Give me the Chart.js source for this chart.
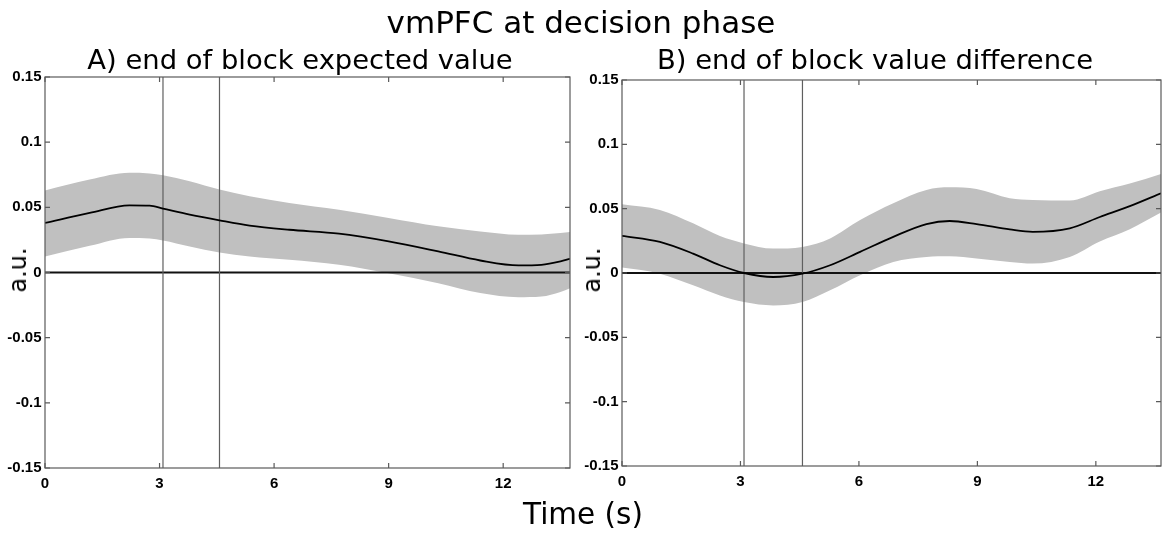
<!DOCTYPE html>
<html>
<head>
<meta charset="utf-8">
<script src="https://cdn.jsdelivr.net/npm/chart.js@4/dist/chart.umd.min.js"></script>
<style>
  html, body { margin: 0; padding: 0; background: #fff; }
  #wrap { position: relative; width: 1162px; height: 533px; overflow: hidden; font-family: "DejaVu Sans", sans-serif; color: #000; }
  canvas { position: absolute; top: 0; }
  .txt { position: absolute; line-height: 1; white-space: nowrap; }
  .au { position: absolute; line-height: 1; font-size: 24px; transform: translate(-50%, -50%) rotate(-90deg); }
</style>
</head>
<body>
<div id="wrap">
  <canvas id="chartA" width="581" height="533" style="left:0"></canvas>
  <canvas id="chartB" width="594" height="533" style="left:568px"></canvas>
  <div class="txt" style="left:0;width:1162px;text-align:center;top:7px;font-size:31px">vmPFC at decision phase</div>
  <div class="txt" style="left:0;width:600px;text-align:center;top:46px;font-size:27.4px">A) end of block expected value</div>
  <div class="txt" style="left:588px;width:574px;text-align:center;top:46px;font-size:27.4px">B) end of block value difference</div>
  <div class="txt" style="left:0;width:1166px;text-align:center;top:500px;font-size:29.5px">Time (s)</div>
  <div class="au" style="left:18px;top:270px">a.u.</div>
  <div class="au" style="left:592px;top:270px">a.u.</div>
</div>
<script>
// ---- data ----
const xTicks = [0, 3, 6, 9, 12];
const yTicks = [-0.15, -0.1, -0.05, 0, 0.05, 0.1, 0.15];
const yTickLabels = ['-0.15', '-0.1', '-0.05', '0', '0.05', '0.1', '0.15'];
const eventTimes = [3.09, 4.57];

// A) end of block expected value
const timeA  = [0, 1.17, 2.21, 2.74, 3.09, 3.79, 4.57, 5.36, 6.4, 7.7, 9.0, 10.3, 11.4, 12.4, 13.0, 13.5, 13.75];
const meanA  = [0.038, 0.0457, 0.0515, 0.0513, 0.049, 0.0444, 0.040, 0.036, 0.0328, 0.0298, 0.0239, 0.0162, 0.0092, 0.0054, 0.0059, 0.0085, 0.0105];
const upperA = [0.063, 0.0713, 0.0765, 0.076, 0.0746, 0.070, 0.0636, 0.0585, 0.0534, 0.0482, 0.0418, 0.0354, 0.0315, 0.029, 0.0292, 0.0303, 0.031];
const lowerA = [0.0123, 0.0205, 0.0265, 0.026, 0.0246, 0.020, 0.0154, 0.0123, 0.0098, 0.006, -0.0005, -0.0082, -0.0158, -0.019, -0.0185, -0.015, -0.012];

// B) end of block value difference
const timeB  = [0, 0.96, 1.8, 2.48, 3.09, 3.83, 4.57, 5.27, 6.03, 6.87, 7.71, 8.3, 8.98, 9.82, 10.4, 11.34, 12.1, 12.86, 13.65];
const meanB  = [0.0289, 0.0242, 0.0151, 0.006, 0.0, -0.0031, -0.0005, 0.006, 0.0164, 0.0281, 0.038, 0.0404, 0.038, 0.0339, 0.032, 0.0347, 0.0435, 0.052, 0.062];
const upperB = [0.0534, 0.049, 0.0386, 0.0287, 0.023, 0.019, 0.0203, 0.0269, 0.0412, 0.0542, 0.0646, 0.0666, 0.0652, 0.0581, 0.0568, 0.0563, 0.0635, 0.0695, 0.077];
const lowerB = [0.0042, -0.0005, -0.0096, -0.0174, -0.0226, -0.0252, -0.0226, -0.0135, -0.0018, 0.0086, 0.0125, 0.013, 0.0112, 0.0086, 0.0073, 0.0125, 0.0245, 0.034, 0.047];

const pts = (xs, ys) => xs.map((x, i) => ({ x, y: ys[i] }));

// MATLAB-like box with inward ticks on all four sides
const boxPlugin = {
    id: 'box',
    afterDraw(chart) {
        const { ctx, chartArea: a, scales } = chart;
        const len = 5;
        ctx.save();
        ctx.strokeStyle = '#5a5a5a';
        ctx.lineWidth = 1.2;
        ctx.strokeRect(a.left, a.top, a.right - a.left, a.bottom - a.top);
        ctx.beginPath();
        xTicks.forEach(v => {
            const px = scales.x.getPixelForValue(v);
            ctx.moveTo(px, a.bottom); ctx.lineTo(px, a.bottom - len);
            ctx.moveTo(px, a.top); ctx.lineTo(px, a.top + len);
        });
        yTicks.forEach(v => {
            const py = scales.y.getPixelForValue(v);
            ctx.moveTo(a.left, py); ctx.lineTo(a.left + len, py);
            ctx.moveTo(a.right, py); ctx.lineTo(a.right - len, py);
        });
        ctx.stroke();
        ctx.restore();
    }
};

function makePanel(id, t, mean, upper, lower, opt) {
    const xMax = t[t.length - 1];
    const tickFont = { family: '"Liberation Sans", Arial, sans-serif', size: 15, weight: 'bold' };
    const smooth = { cubicInterpolationMode: 'monotone' };
    const datasets = [
        { data: pts(t, upper), borderWidth: 0, pointRadius: 0, fill: '+1', backgroundColor: '#c0c0c0', order: 5, ...smooth },
        { data: pts(t, lower), borderWidth: 0, pointRadius: 0, fill: false, order: 4, ...smooth },
        { data: [{ x: 0, y: 0 }, { x: xMax, y: 0 }], borderColor: '#111', borderWidth: 2, pointRadius: 0, order: 3 }
    ];
    eventTimes.forEach(e => datasets.push({
        data: [{ x: e, y: -0.15 }, { x: e, y: 0.15 }], borderColor: '#5f5f5f', borderWidth: 1.2, pointRadius: 0, order: 2
    }));
    datasets.push({ data: pts(t, mean), borderColor: '#000', borderWidth: 1.8, pointRadius: 0, fill: false, order: 0, ...smooth });

    return new Chart(document.getElementById(id), {
        type: 'line',
        data: { datasets },
        plugins: [boxPlugin],
        options: {
            responsive: false,
            devicePixelRatio: 1,
            animation: false,
            layout: { padding: opt.padding },
            plugins: { legend: { display: false }, tooltip: { enabled: false } },
            scales: {
                x: {
                    type: 'linear', min: 0, max: xMax,
                    grid: { display: false, drawTicks: false }, border: { display: false },
                    afterBuildTicks: s => { s.ticks = xTicks.map(v => ({ value: v })); },
                    afterFit: s => { s.height = 30; },
                    ticks: { font: tickFont, color: '#000', padding: 7, maxRotation: 0, callback: v => String(v) }
                },
                y: {
                    type: 'linear', min: -0.15, max: 0.15,
                    grid: { display: false, drawTicks: false }, border: { display: false },
                    afterBuildTicks: s => { s.ticks = yTicks.map(v => ({ value: v })); },
                    afterFit: s => { s.width = opt.yWidth; },
                    ticks: {
                        font: tickFont, color: '#000', padding: 3.5,
                        callback: (v, i) => yTickLabels[i]
                    }
                }
            }
        }
    });
}

makePanel('chartA', timeA, meanA, upperA, lowerA, { padding: { left: 0, top: 77, right: 11, bottom: 35 }, yWidth: 45 });
makePanel('chartB', timeB, meanB, upperB, lowerB, { padding: { left: 0, top: 80, right: 1, bottom: 37 }, yWidth: 54 });
</script>
</body>
</html>
